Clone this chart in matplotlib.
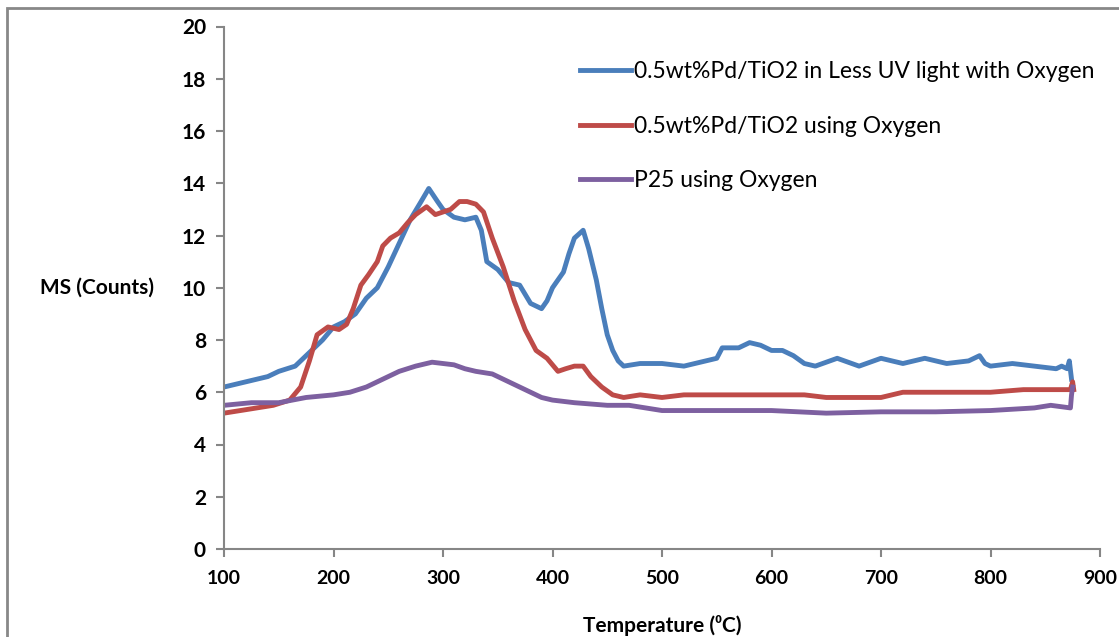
import matplotlib
matplotlib.use("Agg")
import matplotlib.pyplot as plt
from matplotlib.patches import Rectangle

plt.rcParams['font.family'] = ['Lato', 'DejaVu Sans']

# temperature (C) and MS counts
temp_blue = [100, 120, 140, 150, 165, 180, 190, 200, 210, 220, 230, 240, 250, 260, 270,
             280, 287, 295, 300, 310, 320, 330, 335, 340, 350, 360, 370, 380, 390, 395,
             400, 410, 415, 420, 428, 433, 440, 445, 450, 455, 460, 465, 480, 500, 520,
             540, 550, 555, 570, 580, 590, 600, 610, 620, 630, 640, 660, 680, 700, 720,
             740, 760, 780, 790, 795, 800, 820, 840, 860, 865, 870, 872, 874]
ms_blue = [6.2, 6.4, 6.6, 6.8, 7.0, 7.6, 8.0, 8.5, 8.7, 9.0, 9.6, 10.0, 10.8, 11.7, 12.6,
           13.3, 13.8, 13.3, 13.0, 12.7, 12.6, 12.7, 12.2, 11.0, 10.7, 10.2, 10.1, 9.4, 9.2, 9.5,
           10.0, 10.6, 11.3, 11.9, 12.2, 11.5, 10.3, 9.2, 8.2, 7.6, 7.2, 7.0, 7.1, 7.1, 7.0,
           7.2, 7.3, 7.7, 7.7, 7.9, 7.8, 7.6, 7.6, 7.4, 7.1, 7.0, 7.3, 7.0, 7.3, 7.1,
           7.3, 7.1, 7.2, 7.4, 7.1, 7.0, 7.1, 7.0, 6.9, 7.0, 6.9, 7.2, 6.5]

temp_red = [100, 115, 130, 145, 160, 170, 178, 185, 195, 205, 212, 218, 225, 232, 240,
            245, 252, 260, 268, 275, 285, 293, 300, 307, 315, 322, 330, 337, 345, 355,
            365, 375, 385, 395, 405, 412, 420, 428, 435, 445, 455, 465, 480, 500, 520,
            550, 580, 600, 630, 650, 680, 700, 720, 750, 780, 800, 830, 860, 873, 875, 876]
ms_red = [5.2, 5.3, 5.4, 5.5, 5.7, 6.2, 7.2, 8.2, 8.5, 8.4, 8.6, 9.2, 10.1, 10.5, 11.0,
          11.6, 11.9, 12.1, 12.5, 12.8, 13.1, 12.8, 12.9, 13.0, 13.3, 13.3, 13.2, 12.9, 11.9, 10.8,
          9.5, 8.4, 7.6, 7.3, 6.8, 6.9, 7.0, 7.0, 6.6, 6.2, 5.9, 5.8, 5.9, 5.8, 5.9,
          5.9, 5.9, 5.9, 5.9, 5.8, 5.8, 5.8, 6.0, 6.0, 6.0, 6.0, 6.1, 6.1, 6.1, 6.4, 6.1]

temp_purple = [100, 125, 150, 175, 200, 215, 230, 245, 260, 275, 290, 300, 310, 320, 330,
               345, 360, 370, 380, 390, 400, 420, 450, 470, 500, 550, 600, 650, 700, 750,
               800, 840, 855, 873, 874, 875]
ms_purple = [5.5, 5.6, 5.6, 5.8, 5.9, 6.0, 6.2, 6.5, 6.8, 7.0, 7.15, 7.1, 7.05, 6.9, 6.8,
             6.7, 6.4, 6.2, 6.0, 5.8, 5.7, 5.6, 5.5, 5.5, 5.3, 5.3, 5.3, 5.2, 5.25, 5.25,
             5.3, 5.4, 5.5, 5.4, 5.9, 6.2]

labels = ['0.5wt%Pd/TiO2 in Less UV light with Oxygen',
          '0.5wt%Pd/TiO2 using Oxygen',
          'P25 using Oxygen']
colors = ['#4a7ebb', '#be4b48', '#7d60a0']

fig = plt.figure(figsize=(11.19, 6.37), dpi=100)
ax = fig.add_axes([224 / 1119, 1 - 549 / 637, (1100 - 224) / 1119, (549 - 26.5) / 637])

ax.plot(temp_blue, ms_blue, color=colors[0], lw=3.5, label=labels[0])
ax.plot(temp_red, ms_red, color=colors[1], lw=3.5, label=labels[1])
ax.plot(temp_purple, ms_purple, color=colors[2], lw=3.5, label=labels[2])

ax.set_xlim(100, 900)
ax.set_ylim(0, 20)
ax.set_xticks(range(100, 901, 100))
ax.set_yticks(range(0, 21, 2))
for s in ['top', 'right']:
    ax.spines[s].set_visible(False)
for s in ['left', 'bottom']:
    ax.spines[s].set_color('#868686')
    ax.spines[s].set_linewidth(1.5)
ax.tick_params(axis='both', color='#868686', width=1.5, length=6)
ax.tick_params(axis='y', pad=7, labelsize=15)
ax.tick_params(axis='x', pad=9, labelsize=14)
for t in ax.get_yticklabels() + ax.get_xticklabels():
    t.set_fontweight('bold')

ax.set_xlabel('Temperature (⁰C)', fontsize=15, fontweight='bold', labelpad=20)
ax.set_ylabel('MS (Counts)', fontsize=15, fontweight='bold', rotation=0,
              va='center', labelpad=0)
ax.yaxis.set_label_coords(-0.145, 0.5)

ax.legend(loc='upper left', bbox_to_anchor=(569 / 1119, 1 - 50 / 637),
          bbox_transform=fig.transFigure, frameon=False, fontsize=16.5,
          handlelength=2.2, handletextpad=0.15, labelspacing=1.45, borderpad=0)

fig.patches.append(Rectangle((7 / 1119, -0.01), 1.1, 1 - 8 / 637 + 0.01,
                             transform=fig.transFigure, fill=False,
                             edgecolor='#888888', lw=2))

fig.savefig('out.png', dpi=100)
